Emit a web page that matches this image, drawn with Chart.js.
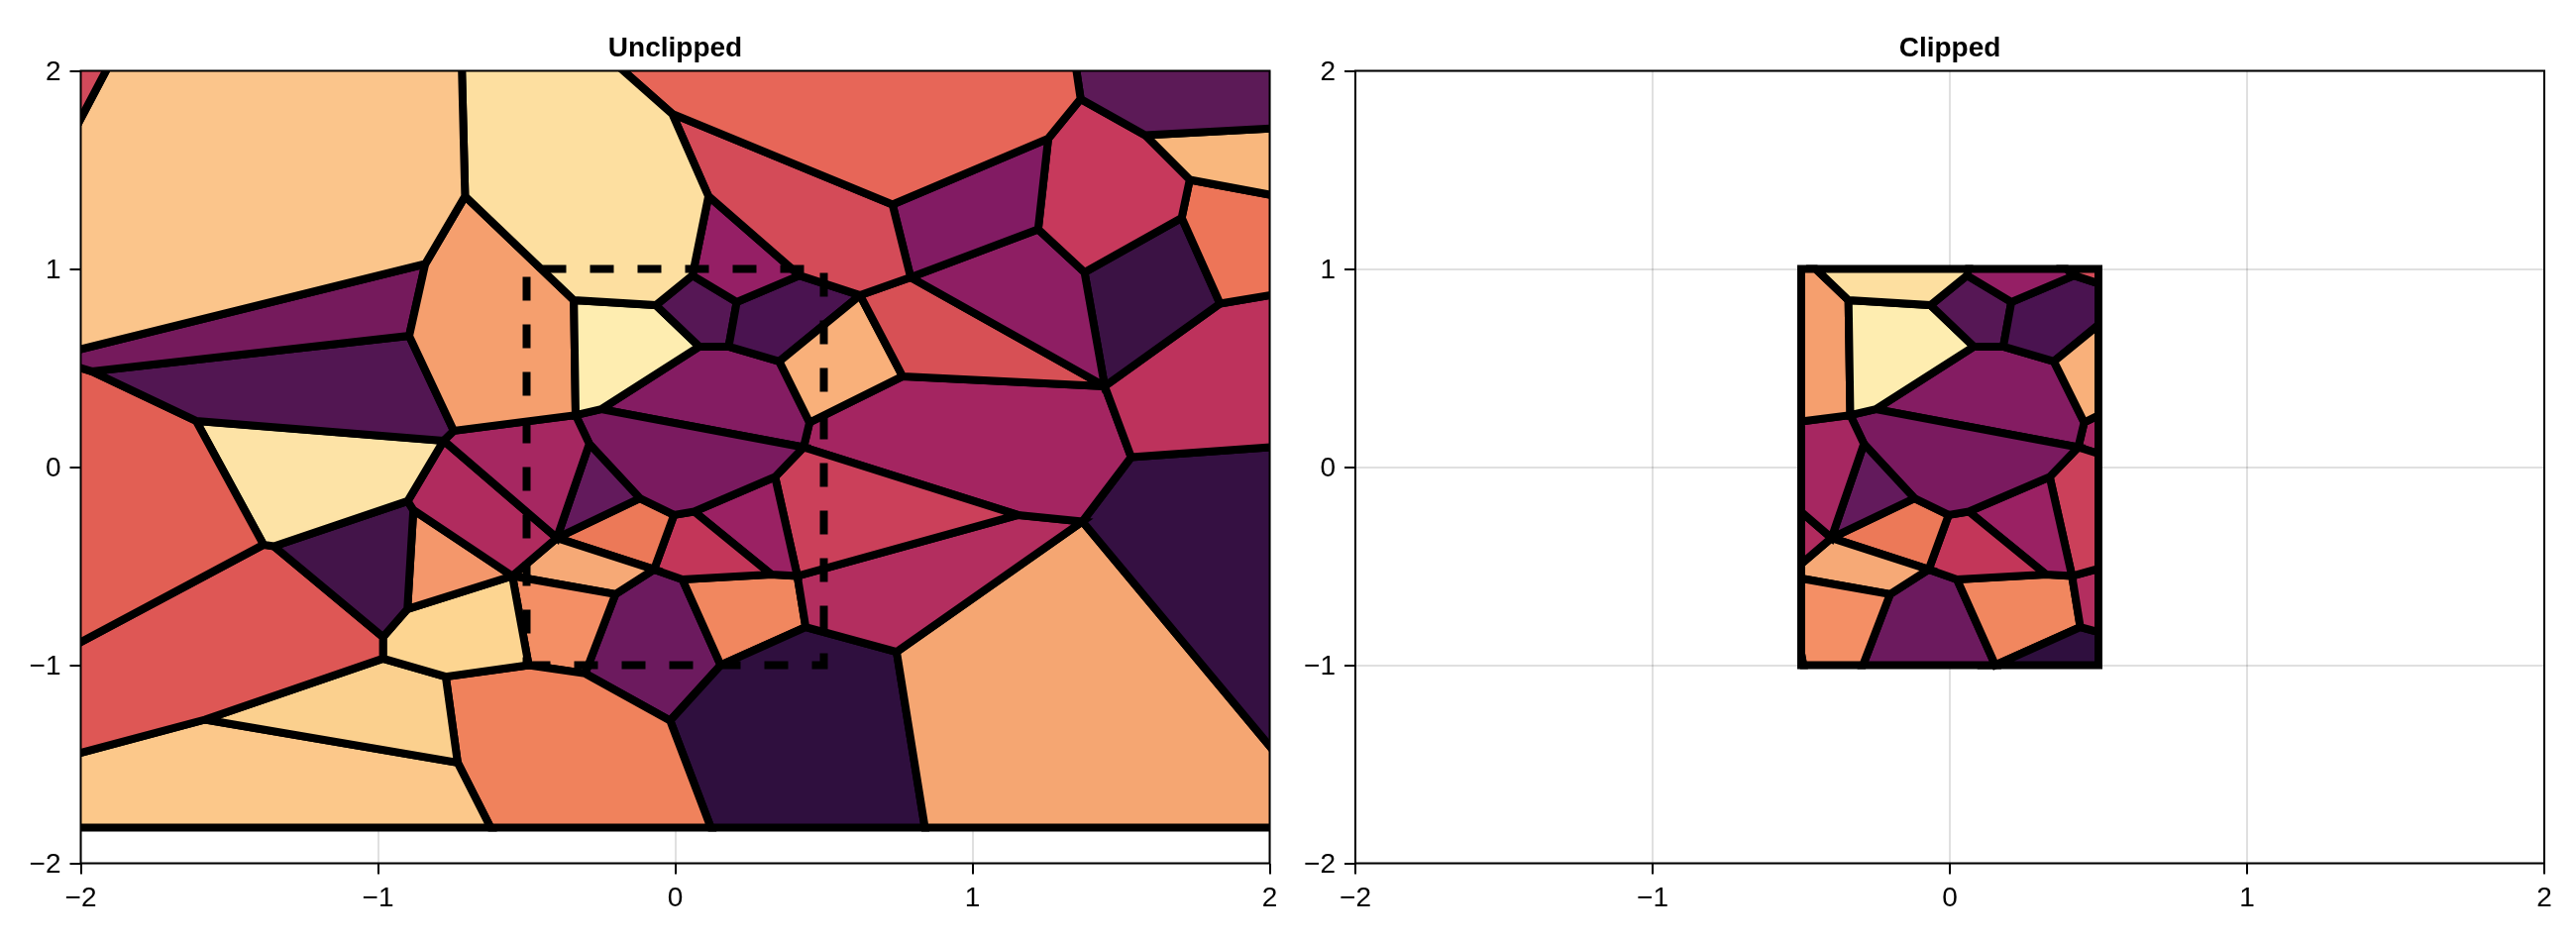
<!DOCTYPE html>
<html>
<head>
<meta charset="utf-8">
<title>Voronoi clipping</title>
<script src="https://cdn.jsdelivr.net/npm/chart.js@4/dist/chart.umd.js"></script>
<style>
  html, body { margin: 0; padding: 0; background: #fff; }
  canvas { position: absolute; top: 0; }
  #unclipped { left: 0; }
  #clipped { left: 1300px; }
</style>
</head>
<body>
<canvas id="unclipped" width="1300" height="952"></canvas>
<canvas id="clipped" width="1300" height="952"></canvas>
<script>
const titles = ["Unclipped", "Clipped"];
const tickValues = [-2, -1, 0, 1, 2];
const tickLabels = ["\u22122", "\u22121", "0", "1", "2"];

// Voronoi corners. Border ones sit past the axis limits so their edges get cut off.
const vertexX = [
  -2.2, -1.845, -2.2, -0.721, -0.707, -0.841, -2.114, -2.2, -0.325, -0.01,
  0.112, 0.058, -0.065, -0.341, 1.33, 1.364, 1.255, 0.731, 2.2, 2.2,
  1.581, 0.792, 0.622, 0.418, 0.207, 1.221, 1.731, 1.704, 1.377, 2.2,
  2.2, 1.833, 1.445, 2.2, 1.534, 0.765, 0.452, 0.35, 0.18, 0.081,
  -0.249, -0.335, -0.745, -0.895, -1.963, -0.779, -1.612, -1.385, -2.2, -0.9,
  -1.35, -0.289, -0.398, -0.881, -0.548, -0.901, -0.983, -0.983, -1.582, -2.2,
  -0.493, -0.772, -0.732, -0.621, -2.2, -0.303, -0.017, 0.12, -0.201, -0.071,
  -0.119, 0.432, 0.336, 0.064, -0.004, 0.323, 0.024, 0.411, 1.153, 1.37,
  0.745, 0.439, 2.2, 2.2, 0.84, 0.153,
];
const vertexY = [
  2.2, 2.2, 1.19, 2.2, 1.367, 1.025, 0.553, 0.53, 2.2, 1.783,
  1.367, 0.967, 0.817, 0.842, 2.2, 1.858, 1.658, 1.325, 2.2, 1.724,
  1.675, 0.958, 0.867, 0.967, 0.833, 1.2, 1.45, 1.258, 0.983, 1.319,
  0.917, 0.825, 0.408, 0.121, 0.05, 0.458, 0.225, 0.533, 0.608, 0.608,
  0.292, 0.262, 0.183, 0.662, 0.483, 0.133, 0.233, -0.392, -1.043, -0.172,
  -0.4, 0.117, -0.358, -0.217, -0.55, -0.717, -0.858, -0.967, -1.275, -1.522,
  -1.0, -1.058, -1.492, -1.82, -1.82, -1.042, -1.28, -1.82, -0.642, -0.517,
  -0.158, 0.1, -0.05, -0.225, -0.242, -0.542, -0.567, -0.55, -0.242, -0.275,
  -0.933, -0.808, -1.768, -1.82, -1.82, -1.0,
];

// each cell is a list of indexes into vertexX / vertexY
const cellVertices = [
  [0, 1, 2],
  [1, 3, 4, 5, 6, 7, 2],
  [3, 8, 9, 10, 11, 12, 13, 4],
  [8, 14, 15, 16, 17, 9],
  [14, 18, 19, 20, 15],
  [9, 17, 21, 22, 23, 10],
  [10, 23, 24, 11],
  [17, 16, 25, 21],
  [16, 15, 20, 26, 27, 28, 25],
  [20, 19, 29, 26],
  [26, 29, 30, 31, 27],
  [25, 28, 32, 21],
  [28, 27, 31, 32],
  [31, 30, 33, 34, 32],
  [21, 32, 35, 22],
  [22, 35, 36, 37],
  [23, 22, 37, 38, 24],
  [12, 11, 24, 38, 39],
  [13, 12, 39, 40, 41],
  [4, 13, 41, 42, 43, 5],
  [5, 43, 44, 6],
  [43, 42, 45, 46, 44],
  [6, 44, 46, 47, 48, 7],
  [46, 45, 49, 50, 47],
  [45, 42, 41, 51, 52],
  [45, 49, 53, 54, 52],
  [49, 50, 56, 55, 53],
  [53, 55, 54],
  [47, 50, 56, 57, 58, 59, 48],
  [55, 56, 57, 61, 60, 54],
  [57, 61, 62, 58],
  [59, 58, 62, 63, 64],
  [61, 60, 65, 66, 67, 63, 62],
  [54, 68, 65, 60],
  [52, 69, 68, 54],
  [51, 70, 52],
  [41, 40, 71, 72, 73, 74, 70, 51],
  [40, 39, 38, 37, 36, 71],
  [70, 74, 69, 52],
  [74, 73, 75, 76, 69],
  [73, 72, 77, 75],
  [72, 71, 78, 77],
  [71, 36, 35, 32, 34, 79, 78],
  [78, 79, 80, 81, 77],
  [34, 33, 82, 79],
  [79, 82, 83, 84, 80],
  [81, 80, 84, 67, 66, 85],
  [76, 75, 77, 81, 85],
  [68, 69, 76, 85, 66, 65],
];

const cellColors = [
  "#d14a5b", "#fbc58b", "#fddfa0", "#e76658", "#5c1a57", "#d44b58", "#951f65",
  "#821b63", "#c7395c", "#f9b77d", "#ed7558", "#8e1e63", "#3b1244", "#bd325c",
  "#d75055", "#f9b07a", "#4a1350", "#561755", "#feedb0", "#f59f6e", "#751a5c",
  "#521652", "#e25f54", "#fde3a6", "#a62761", "#b02b5e", "#431449", "#f4976b",
  "#de5755", "#fdd591", "#fbd08e", "#fcc88a", "#f0825c", "#f48f65", "#f6a976",
  "#631a5c", "#7a1a5f", "#841c62", "#ec7958", "#c33659", "#9a2163", "#cb405a",
  "#a42561", "#b32e5f", "#351042", "#f5a672", "#2f0f3e", "#f1875f", "#6c1a5e",
];

// the clip rectangle
const clipX = [-0.5, 0.5, 0.5, -0.5, -0.5];
const clipY = [-1, -1, 1, 1, -1];

function cellPoints(cell) {
  return cell.map((i) => ({ x: vertexX[i], y: vertexY[i] }));
}

// cut a polygon against one side of the clip rectangle
function cutSide(points, inside, cross) {
  const out = [];
  points.forEach((p, i) => {
    const prev = points[(i + points.length - 1) % points.length];
    if (inside(p)) {
      if (!inside(prev)) out.push(cross(prev, p));
      out.push(p);
    } else if (inside(prev)) {
      out.push(cross(prev, p));
    }
  });
  return out;
}

function atX(x) {
  return (a, b) => ({ x: x, y: a.y + ((b.y - a.y) * (x - a.x)) / (b.x - a.x) });
}
function atY(y) {
  return (a, b) => ({ x: a.x + ((b.x - a.x) * (y - a.y)) / (b.y - a.y), y: y });
}

function clipCell(points) {
  let out = cutSide(points, (p) => p.x >= -0.5, atX(-0.5));
  out = cutSide(out, (p) => p.x <= 0.5, atX(0.5));
  out = cutSide(out, (p) => p.y >= -1, atY(-1));
  out = cutSide(out, (p) => p.y <= 1, atY(1));
  return out;
}

function cellDataset(points, color) {
  // first two points again so the stroke closes with a proper corner
  const closed = points.concat(points.slice(0, 2));
  return {
    data: closed,
    showLine: true,
    fill: "shape",
    backgroundColor: color,
    borderColor: "#000",
    borderWidth: 8,
    borderJoinStyle: "miter",
    pointRadius: 0,
    tension: 0,
    clip: 0,
  };
}

const spines = {
  id: "spines",
  afterDraw(chart) {
    const { ctx, chartArea } = chart;
    ctx.save();
    ctx.strokeStyle = "#000";
    ctx.lineWidth = 2;
    ctx.strokeRect(chartArea.left, chartArea.top, chartArea.right - chartArea.left, chartArea.bottom - chartArea.top);
    ctx.restore();
  },
};

function axis(side, size) {
  return {
    type: "linear",
    min: -2,
    max: 2,
    afterBuildTicks(scale) {
      scale.ticks = tickValues.map((v) => ({ value: v }));
    },
    afterFit(scale) {
      scale.paddingLeft = 0;
      scale.paddingRight = 0;
      scale.paddingTop = 0;
      scale.paddingBottom = 0;
      if (side === "x") scale.height = size;
      else scale.width = size;
    },
    border: { display: false },
    grid: {
      color: "rgba(0,0,0,0.12)",
      lineWidth: 2,
      tickColor: "#000",
      tickWidth: 2,
      tickLength: 11,
    },
    ticks: {
      color: "#000",
      padding: side === "x" ? 8 : 9,
      labelOffset: side === "x" ? 0 : 1.5,
      maxRotation: 0,
      font: { family: "'Liberation Sans'", size: 28 },
      callback: (value, index) => tickLabels[index],
    },
  };
}

function makeChart(id, title, datasets, left, right) {
  new Chart(document.getElementById(id), {
    type: "scatter",
    data: { datasets: datasets },
    options: {
      responsive: false,
      animation: false,
      layout: { padding: { right: right } },
      plugins: {
        legend: { display: false },
        tooltip: { enabled: false },
        title: {
          display: true,
          text: title,
          color: "#000",
          fullSize: false,
          font: { family: "'Liberation Sans'", size: 28, weight: "bold", lineHeight: 1 },
          padding: { top: 35.5, bottom: 8 },
        },
      },
      scales: {
        x: axis("x", 80.5),
        y: axis("y", left),
      },
    },
    plugins: [spines],
  });
}

const allCells = cellVertices.map(cellPoints);

const dashedBox = {
  data: clipX.map((x, i) => ({ x: x, y: clipY[i] })),
  showLine: true,
  fill: false,
  borderColor: "#000",
  borderWidth: 8,
  borderDash: [24, 24],
  borderCapStyle: "butt",
  borderJoinStyle: "miter",
  pointRadius: 0,
  tension: 0,
  clip: 0,
};

// chart.js paints the first dataset last, so the dashed box goes in front
makeChart(
  "unclipped",
  titles[0],
  [dashedBox].concat(allCells.map((c, i) => cellDataset(c, cellColors[i]))),
  81.5,
  18.5
);

const clippedSets = [];
allCells.forEach((c, i) => {
  const cut = clipCell(c);
  if (cut.length > 2) clippedSets.push(cellDataset(cut, cellColors[i]));
});
makeChart("clipped", titles[1], clippedSets, 68, 32);
</script>
</body>
</html>
